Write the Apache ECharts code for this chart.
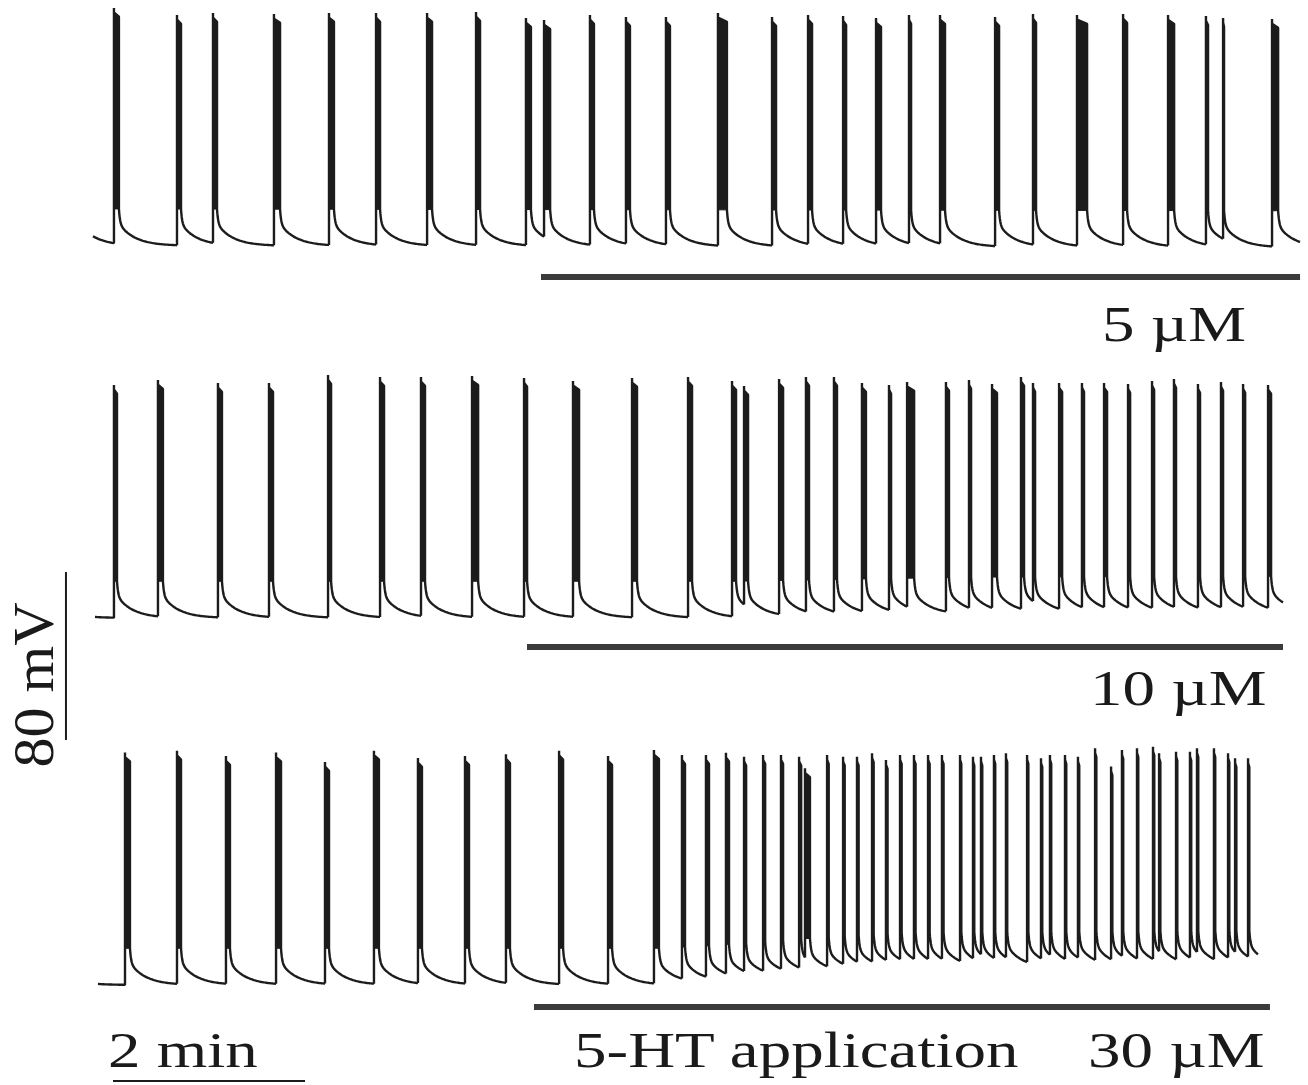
<!DOCTYPE html>
<html>
<head>
<meta charset="utf-8">
<script src="https://cdn.jsdelivr.net/npm/echarts@6/dist/echarts.min.js"></script>
<style>
  html, body { margin: 0; padding: 0; background: #ffffff; }
  #chart { width: 1308px; height: 1085px; }
</style>
</head>
<body>
<div id="chart"></div>
<script>
// Spontaneous action potentials recorded during 5-HT application at three concentrations.
// Time in seconds from the start of each sweep, membrane potential in mV.

// ---- 5 µM sweep ----
const spikeTimes5 = [13.1, 52.5, 75.0, 113.1, 147.5, 176.9, 208.8, 239.4, 270.6, 281.9, 310.6, 333.1, 358.1, 390.6,
  424.4, 446.9, 468.8, 489.4, 510.0, 529.4, 563.8, 587.5, 615.0, 643.8, 671.9, 695.6, 706.3, 736.9];
const spikePeaks5 = [52.9, 49.5, 50.5, 50.0, 50.5, 50.5, 50.5, 51.0, 48.1, 47.1, 49.5, 48.6, 48.6, 50.5,
  48.6, 49.5, 49.0, 48.1, 49.5, 49.5, 48.6, 50.0, 49.5, 50.0, 49.5, 49.0, 48.1, 47.6];
const spikeDurations5 = [3.1, 2.5, 2.5, 3.8, 3.1, 2.5, 3.1, 2.5, 3.1, 3.8, 2.5, 2.5, 2.5, 5.6,
  2.5, 2.5, 1.9, 3.1, 1.3, 3.1, 2.5, 1.9, 6.3, 2.5, 3.8, 1.3, 0.6, 3.8];
const restTimes5 = [0, 754.4];
const restLevels5 = [-60.3, -61.2];
const sweep5 = [0, 754.4];
const application5 = [280.0, 754.4];

// ---- 10 µM sweep ----
const spikeTimes10 = [13.1, 40.6, 78.1, 110.0, 146.9, 179.4, 205.0, 236.9, 269.4, 300.0, 336.9, 371.9, 399.4, 406.9,
  428.8, 445.6, 463.1, 480.6, 497.5, 508.8, 533.1, 547.5, 561.9, 580.0, 587.5, 603.8, 618.1, 631.9,
  646.9, 661.9, 675.6, 690.6, 705.0, 718.8, 734.4];
const spikePeaks10 = [51.0, 53.3, 51.9, 51.9, 55.7, 54.8, 54.8, 55.2, 54.3, 52.9, 54.3, 54.8, 52.9, 50.5,
  53.8, 54.8, 54.8, 51.9, 51.0, 52.4, 52.4, 53.3, 51.4, 54.8, 51.9, 51.9, 51.9, 51.9,
  51.4, 52.9, 53.8, 51.4, 52.4, 51.4, 51.0];
const spikeDurations10 = [1.9, 3.1, 2.5, 2.5, 1.9, 2.5, 2.5, 3.8, 1.9, 3.8, 3.1, 2.5, 2.5, 2.5,
  2.5, 1.9, 1.9, 2.5, 1.3, 4.4, 1.9, 1.3, 3.1, 1.9, 1.3, 1.9, 1.3, 1.9,
  1.3, 1.3, 1.3, 1.3, 1.3, 1.3, 1.9];
const restTimes10 = [0, 400, 500, 560, 744];
const restLevels10 = [-60.0, -60.0, -58.6, -58.0, -57.6];
const sweep10 = [1.25, 743.75];
const application10 = [271.25, 743.75];

// ---- 30 µM sweep ----
const spikeTimes30 = [20.0, 52.5, 83.1, 114.4, 145.0, 175.6, 203.1, 232.5, 258.1, 291.3, 321.9,
  350.6, 368.1, 383.1, 395.6, 406.9, 418.8, 430.0, 441.3, 445.0, 458.8, 468.8, 477.5, 486.9, 495.6,
  504.4, 513.1, 521.9, 530.6,
  541.9, 550.0, 555.0, 563.1, 570.6, 583.8, 592.5, 598.1, 607.5, 615.6, 626.3, 636.3, 643.1, 652.5,
  662.5, 666.3, 676.9, 685.6, 690.0, 700.6, 709.4, 713.8, 721.9];
const spikePeaks30 = [50.7, 51.6, 49.0, 50.7, 46.2, 51.6, 48.1, 49.0, 49.9, 51.6, 49.0,
  51.9, 49.5, 49.5, 50.6, 48.7, 49.5, 49.5, 48.7, 43.2, 49.5, 48.7, 48.7, 50.3, 47.1,
  49.5, 49.5, 49.5, 49.5,
  49.5, 48.7, 48.7, 49.5, 50.3, 49.5, 48.0, 49.5, 49.5, 48.7, 52.7, 44.0, 51.9, 52.7,
  53.5, 50.3, 51.1, 51.1, 52.7, 52.7, 50.3, 48.0, 48.0];
const spikeDurations30 = [3.1, 2.5, 2.5, 3.1, 2.5, 3.1, 2.5, 2.5, 2.5, 2.5, 2.5,
  3.1, 1.9, 1.9, 1.9, 1.3, 1.3, 1.3, 1.3, 3.1, 1.0, 1.0, 1.0, 1.0, 1.0,
  1.0, 1.0, 1.0, 1.0,
  0.8, 0.8, 0.8, 0.8, 0.8, 0.8, 0.8, 0.8, 0.8, 0.8, 0.8, 0.8, 0.8, 0.8,
  0.8, 0.8, 0.8, 0.8, 0.8, 0.8, 0.8, 0.8, 0.8];
const restTimes30 = [0, 350, 380, 442, 504, 728];
const restLevels30 = [-60.0, -60.0, -59.0, -55.5, -52.5, -51.5];
const sweep30 = [3.1, 728.1];
const application30 = [275.6, 735.6];

// ---- labels and calibration ----
const concentrationLabels = ['5 µM', '10 µM', '30 µM'];
const applicationLabel = '5-HT application';
const timeScaleLabel = '2 min';
const voltScaleLabel = '80 mV';
const timeScaleBar = [12.5, 132.5];   // 120 s, drawn under the 30 µM sweep
const timeScaleLevel = -105.7;
const voltScaleBar = [-38.1, -118.1]; // 80 mV, drawn beside the 10 µM sweep
const voltScaleTime = -16.9;

// Shape of each spike's after-potential (mV, s)
const SHAPE = { fastAmp: 7.0, fastTau: 0.7, slowAmp: 10.5, slowTau: 10, tip: 2.2, slant: 2.0 };
const INK = '#1c1c1c';
const BAR = '#3b3b3b';
const X_MAX = 754.375;
const Y_MIN = -80, Y_MAX = 55;

function makeSweep(times, peaks, durations, restT, restV, sweep, lead) {
  return { times, peaks, durations, restT, restV, sweep, lead };
}
const sweeps = [
  makeSweep(spikeTimes5, spikePeaks5, spikeDurations5, restTimes5, restLevels5, sweep5, 8.5),
  makeSweep(spikeTimes10, spikePeaks10, spikeDurations10, restTimes10, restLevels10, sweep10, 30),
  makeSweep(spikeTimes30, spikePeaks30, spikeDurations30, restTimes30, restLevels30, sweep30, 30)
];
const applications = [application5, application10, application30];
const barLevels = [-75.2, -73.8, -70.5];

function restAt(sw, t) {
  const T = sw.restT, V = sw.restV;
  if (t <= T[0]) return V[0];
  for (let k = 1; k < T.length; k++) {
    if (t <= T[k]) return V[k - 1] + (V[k] - V[k - 1]) * (t - T[k - 1]) / (T[k] - T[k - 1]);
  }
  return V[V.length - 1];
}
function afterPotential(sw, t, tOff) {
  const d = Math.max(0, t - tOff);
  return restAt(sw, t) + SHAPE.fastAmp * Math.exp(-d / SHAPE.fastTau) + SHAPE.slowAmp * Math.exp(-d / SHAPE.slowTau);
}
function leadValue(sw, t) {
  return restAt(sw, t) + SHAPE.slowAmp * Math.exp(-(t - sw.sweep[0] + sw.lead) / SHAPE.slowTau);
}
function valueBefore(sw, i) {
  const t = sw.times[i];
  if (i === 0) return leadValue(sw, t);
  return afterPotential(sw, t, sw.times[i - 1] + sw.durations[i - 1]);
}
function decayTimes(t1, tEnd) {
  const out = [];
  let t = t1, dt = 0.2;
  while (t + dt < tEnd) { t += dt; out.push(t); dt = Math.min(0.8, dt * 1.25); }
  out.push(tEnd);
  return out;
}

function spikeRenderer(sw) {
  return function (params, api) {
    const i = params.dataIndex;
    const t0 = api.value(0), peak = api.value(1), w = api.value(2);
    const t1 = t0 + w;
    const tEnd = i + 1 < sw.times.length ? sw.times[i + 1] : sw.sweep[1];
    const hump = restAt(sw, t0) + SHAPE.fastAmp + SHAPE.slowAmp;
    const pts = [];
    if (i === 0) {
      for (let t = sw.sweep[0]; t < t0; t += 1) pts.push(api.coord([t, leadValue(sw, t)]));
    }
    pts.push(api.coord([t0, valueBefore(sw, i)]));
    pts.push(api.coord([t0, peak]));
    pts.push(api.coord([t0, peak - SHAPE.tip]));
    pts.push(api.coord([t1, peak - SHAPE.tip - SHAPE.slant]));
    pts.push(api.coord([t1, hump]));
    if (tEnd > t1) {
      decayTimes(t1, tEnd).forEach(function (t) { pts.push(api.coord([t, afterPotential(sw, t, t1)])); });
    }
    const band = [
      api.coord([t0, peak - SHAPE.tip]),
      api.coord([t1, peak - SHAPE.tip - SHAPE.slant]),
      api.coord([t1, hump]),
      api.coord([t0, hump])
    ];
    return {
      type: 'group',
      children: [
        { type: 'polygon', shape: { points: band }, style: { fill: INK, stroke: INK, lineWidth: 1 } },
        { type: 'polyline', shape: { points: pts }, style: { fill: null, stroke: INK, lineWidth: 2.4, lineJoin: 'bevel' } }
      ]
    };
  };
}

// straight segment between two data points: [x1, y1, x2, y2]
function segmentRenderer(width, color) {
  return function (params, api) {
    const a = api.coord([api.value(0), api.value(1)]);
    const b = api.coord([api.value(2), api.value(3)]);
    return { type: 'line', shape: { x1: a[0], y1: a[1], x2: b[0], y2: b[1] }, style: { stroke: color, lineWidth: width, lineCap: 'butt' } };
  };
}

const gridTops = [3.5, 376.5, 743.5];
const grids = gridTops.map(function (top) { return { left: 93, width: 1207, top: top, height: 283.5 }; });
const xAxes = gridTops.map(function (_, k) { return { type: 'value', gridIndex: k, min: 0, max: X_MAX, show: false }; });
const yAxes = gridTops.map(function (_, k) { return { type: 'value', gridIndex: k, min: Y_MIN, max: Y_MAX, show: false }; });

const series = [];
sweeps.forEach(function (sw, k) {
  series.push({
    type: 'custom', xAxisIndex: k, yAxisIndex: k, silent: true, clip: false,
    renderItem: spikeRenderer(sw),
    data: sw.times.map(function (t, i) { return [t, sw.peaks[i], sw.durations[i]]; })
  });
  series.push({
    type: 'custom', xAxisIndex: k, yAxisIndex: k, silent: true, clip: false,
    renderItem: segmentRenderer(6, BAR),
    data: [[applications[k][0], barLevels[k], applications[k][1], barLevels[k]]]
  });
});
// calibration bars
series.push({
  type: 'custom', xAxisIndex: 2, yAxisIndex: 2, silent: true, clip: false,
  renderItem: segmentRenderer(2, INK),
  data: [[timeScaleBar[0], timeScaleLevel, timeScaleBar[1], timeScaleLevel]]
});
series.push({
  type: 'custom', xAxisIndex: 1, yAxisIndex: 1, silent: true, clip: false,
  renderItem: segmentRenderer(2, INK),
  data: [[voltScaleTime, voltScaleBar[0], voltScaleTime, voltScaleBar[1]]]
});

const FONT = '50px "Liberation Serif", "Times New Roman", serif';
function label(text, x, y) {
  return {
    type: 'text', x: x, y: y, scaleX: 1.3, silent: true,
    style: { text: text, font: FONT, fill: '#1a1a1a', textAlign: 'left', verticalAlign: 'middle', textVerticalAlign: 'middle' }
  };
}

const chart = echarts.init(document.getElementById('chart'), null, { renderer: 'svg', width: 1308, height: 1085 });
chart.setOption({
  backgroundColor: '#ffffff',
  animation: false,
  grid: grids,
  xAxis: xAxes,
  yAxis: yAxes,
  series: series,
  graphic: [
    label(concentrationLabels[0], 1102, 324),
    label(concentrationLabels[1], 1090, 688),
    label(concentrationLabels[2], 1088, 1050),
    label(applicationLabel, 574, 1050),
    label(timeScaleLabel, 108, 1050),
    {
      type: 'text', x: 34, y: 685, rotation: Math.PI / 2, scaleX: 1.2, scaleY: 1.12, silent: true,
      style: { text: voltScaleLabel, font: FONT, fill: '#1a1a1a', textAlign: 'center', verticalAlign: 'middle', textVerticalAlign: 'middle' }
    }
  ]
});
</script>
</body>
</html>
